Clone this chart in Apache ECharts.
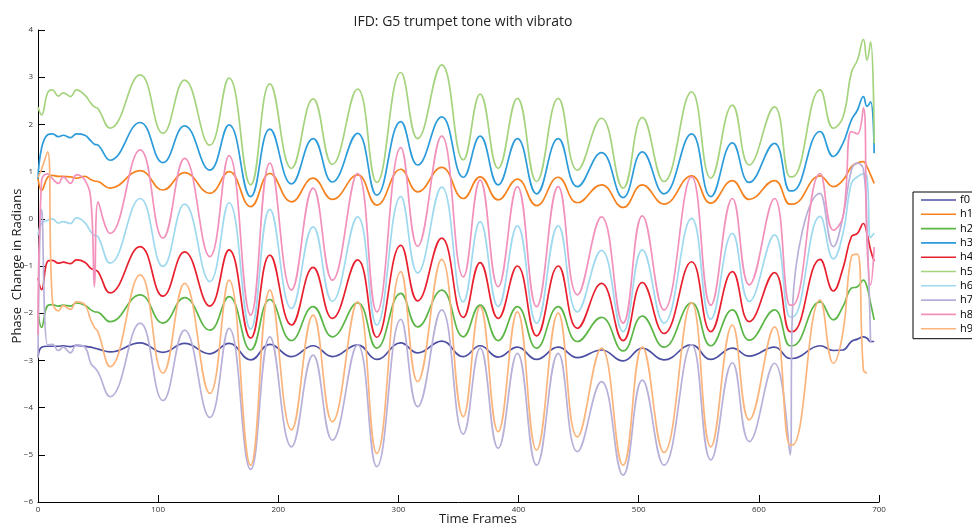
<!DOCTYPE html>
<html>
<head>
<meta charset="utf-8">
<title>IFD: G5 trumpet tone with vibrato</title>
<script src="https://cdn.jsdelivr.net/npm/echarts@6/dist/echarts.min.js"></script>
<style>
  html, body { margin: 0; padding: 0; background: #fff; }
  #chart { width: 972px; height: 527px; }
</style>
</head>
<body>
<div id="chart"></div>
<script>
// key frames (peaks / troughs of the vibrato), shared by all partials
const frames = [0, 3, 8, 12, 17, 21, 27, 32, 39, 44, 47, 50,
  60, 85, 104, 122, 143, 159, 177, 193, 211, 229,
  245, 266, 282, 302, 316, 336, 354, 368, 383, 399,
  415, 433, 449, 469, 487, 503, 521, 544, 560, 578,
  592, 613, 626, 628, 651, 662,
  670, 677, 682, 687, 690, 693, 696];

const f0 = [-2.92, -2.72, -2.7, -2.7, -2.7, -2.69, -2.71, -2.68, -2.7, -2.72, -2.74, -2.76,
  -2.82, -2.63, -2.83, -2.64, -2.86, -2.64, -2.99, -2.66, -2.92, -2.69,
  -2.92, -2.67, -2.98, -2.63, -2.84, -2.59, -2.92, -2.69, -2.93, -2.72,
  -2.98, -2.72, -2.94, -2.78, -3.01, -2.74, -2.99, -2.67, -2.98, -2.74,
  -2.91, -2.72, -2.96, -2.96, -2.69, -2.79,
  -2.78, -2.6, -2.55, -2.5, -2.53, -2.6, -2.6];

const h1 = [0.85, 0.6, 0.88, 0.92, 0.9, 0.9, 0.89, 0.86, 0.9, 0.83, 0.8, 0.79,
  0.65, 1.02, 0.61, 0.98, 0.54, 1.0, 0.26, 0.96, 0.36, 0.86,
  0.41, 0.93, 0.29, 1.05, 0.57, 1.09, 0.43, 0.89, 0.4, 0.84,
  0.28, 0.88, 0.34, 0.72, 0.24, 0.72, 0.31, 0.91, 0.33, 0.81,
  0.41, 0.81, 0.31, 0.31, 0.91, 0.68,
  0.82, 1.1, 1.18, 1.21, 1.1, 0.93, 0.75];

const h2 = [-1.93, -2.3, -1.84, -1.82, -1.85, -1.83, -1.85, -1.78, -1.83, -1.93, -1.97, -1.98,
  -2.18, -1.61, -2.21, -1.67, -2.36, -1.65, -2.78, -1.71, -2.58, -1.86,
  -2.5, -1.78, -2.74, -1.58, -2.29, -1.51, -2.5, -1.83, -2.58, -1.86,
  -2.74, -1.86, -2.6, -2.09, -2.8, -2.06, -2.72, -1.78, -2.69, -1.93,
  -2.57, -1.93, -2.69, -2.69, -1.76, -2.14,
  -1.86, -1.47, -1.44, -1.3, -1.44, -1.79, -2.14];

const h3 = [0.85, 1.5, 1.78, 1.8, 1.74, 1.77, 1.72, 1.8, 1.77, 1.65, 1.58, 1.56,
  1.24, 2.04, 1.19, 1.97, 1.03, 1.99, 0.47, 1.9, 0.74, 1.7,
  0.78, 1.81, 0.5, 2.06, 1.14, 2.16, 0.88, 1.75, 0.72, 1.7,
  0.53, 1.7, 0.68, 1.4, 0.45, 1.42, 0.53, 1.8, 0.47, 1.61,
  0.77, 1.6, 0.59, 0.59, 1.85, 1.32,
  1.6, 2.09, 2.3, 2.59, 2.38, 2.48, 1.39];

const h4 = [-1.25, -1.5, -0.9, -0.88, -0.94, -0.92, -0.95, -0.87, -0.92, -1.05, -1.08, -1.12,
  -1.57, -0.59, -1.64, -0.7, -1.85, -0.66, -2.53, -0.77, -2.25, -1.03,
  -2.11, -0.87, -2.51, -0.56, -1.74, -0.41, -2.09, -0.93, -2.11, -1.0,
  -2.48, -1.0, -2.32, -1.37, -2.58, -1.35, -2.43, -0.91, -2.39, -1.12,
  -2.18, -1.14, -2.39, -2.39, -0.86, -1.53,
  -1.05, -0.38, -0.31, -0.1, -0.31, -0.66, -0.9];

const h5 = [2.37, 2.2, 2.67, 2.73, 2.6, 2.67, 2.59, 2.73, 2.62, 2.45, 2.37, 2.33,
  1.92, 3.05, 1.81, 2.94, 1.56, 2.98, 0.72, 2.86, 1.07, 2.54,
  1.15, 2.75, 0.77, 3.1, 1.7, 3.26, 1.25, 2.64, 1.07, 2.55,
  0.79, 2.55, 1.03, 2.13, 0.65, 2.15, 0.79, 2.69, 0.86, 2.41,
  1.14, 2.37, 0.89, 0.89, 2.73, 1.92,
  2.15, 3.1, 3.36, 3.8, 3.36, 3.75, 1.6];

const h6 = [-0.35, -0.1, -0.03, 0.0, -0.09, -0.06, -0.1, 0.02, -0.08, -0.28, -0.35, -0.38,
  -0.94, 0.43, -1.01, 0.31, -1.33, 0.34, -2.34, 0.2, -1.9, -0.17,
  -1.75, 0.04, -2.25, 0.47, -1.15, 0.67, -1.76, -0.06, -1.86, -0.15,
  -2.21, -0.15, -1.97, -0.67, -2.39, -0.66, -2.21, 0.01, -2.13, -0.31,
  -1.75, -0.34, -2.08, -2.08, 0.05, -0.85,
  -0.31, 0.75, 0.89, 0.95, 0.89, -0.4, -0.3];

const h7 = [-2.95, 0.2, -2.67, -2.66, -2.79, -2.72, -2.84, -2.67, -2.72, -3.07, -3.15, -3.25,
  -3.77, -2.21, -3.85, -2.36, -4.21, -2.32, -5.31, -2.5, -4.83, -2.89,
  -4.69, -2.67, -5.25, -2.13, -3.98, -1.93, -4.56, -2.74, -4.86, -2.85,
  -5.22, -2.85, -4.93, -3.45, -5.43, -3.42, -5.22, -2.67, -5.11, -3.05,
  -4.72, -3.06, -5.0, -1.9, 0.54, -0.59,
  0.04, 1.03, 1.18, 1.05, -0.2, -2.63, null];

const h8 = [-2.45, 0.82, 0.95, 0.85, 0.75, 0.89, 0.75, 0.93, 0.82, 0.4, -1.44, 0.36,
  -0.31, 1.46, -0.41, 1.28, -0.8, 1.34, -2.04, 1.18, -1.51, 0.65,
  -1.3, 0.96, -1.97, 1.51, -0.58, 1.75, -1.23, 0.82, -1.44, 0.68,
  -1.86, 0.68, -1.61, 0.04, -2.21, 0.06, -1.93, 0.89, -1.83, 0.43,
  -1.4, 0.43, -1.83, -1.83, 0.96, -0.24,
  0.04, 1.85, 1.8, 2.35, -0.5, -1.4, -0.6];

const h9 = [0.88, 1.05, 1.42, -1.75, -1.95, -1.84, -1.92, -1.76, -1.82, -2.15, -2.3, -2.4,
  -3.13, -1.19, -3.27, -1.37, -3.7, -1.3, -5.22, -1.51, -4.47, -2.04,
  -4.3, -1.76, -4.97, -1.12, -3.45, -0.86, -4.19, -1.86, -4.51, -1.97,
  -4.9, -2.0, -4.62, -2.74, -5.22, -2.72, -4.95, -1.78, -4.83, -2.25,
  -4.26, -2.29, -4.79, -4.79, -1.72, -3.06,
  -2.4, -0.8, -0.75, -3.2, -3.27, null, null];

const seriesNames = ['f0', 'h1', 'h2', 'h3', 'h4', 'h5', 'h6', 'h7', 'h8', 'h9'];
const seriesValues = [f0, h1, h2, h3, h4, h5, h6, h7, h8, h9];
const colors = ['#4d4fa3', '#f5821f', '#5cb646', '#2b9bd9', '#e8202e',
  '#a5d37e', '#9fd9ef', '#b9b0d9', '#f291bc', '#fbb57c'];

const FONT = '"Open Sans", "DejaVu Sans", sans-serif';

const chart = echarts.init(document.getElementById('chart'), null, { renderer: 'canvas' });

const series = seriesNames.map((name, i) => ({
  name: name,
  type: 'line',
  data: frames.map((f, j) => [f, seriesValues[i][j]]),
  smooth: 0.45,
  symbol: 'none',
  connectNulls: false,
  lineStyle: { color: colors[i], width: 1.7 },
  itemStyle: { color: colors[i] }
}));

chart.setOption({
  animation: false,
  backgroundColor: '#fff',
  title: [{
    text: 'IFD: G5 trumpet tone with vibrato',
    left: 458,
    top: 10,
    textAlign: 'center',
    textStyle: { fontFamily: FONT, fontSize: 14, fontWeight: 'normal', color: '#222' }
  }, {
    text: 'Time Frames',
    left: 473,
    top: 508,
    textAlign: 'center',
    textStyle: { fontFamily: FONT, fontSize: 13, fontWeight: 'normal', color: '#222' }
  }],
  grid: { left: 38, right: 93, top: 30, bottom: 25, containLabel: false, outerBoundsMode: 'none' },
  legend: {
    data: seriesNames,
    orient: 'vertical',
    left: 913,
    top: 192,
    icon: 'rect',
    itemWidth: 35,
    itemHeight: 1.6,
    itemGap: 2.3,
    padding: [2, 14, 4, 8],
    borderColor: '#000',
    borderWidth: 1,
    textStyle: { fontFamily: FONT, fontSize: 11, lineHeight: 12, color: '#000', padding: [0, 0, 0, -1] }
  },
  xAxis: {
    type: 'value',
    min: 0,
    max: 700,
    interval: 100,
    axisLine: { show: true, onZero: false, lineStyle: { color: '#000', width: 1 } },
    axisTick: { show: true, inside: true, length: 7, lineStyle: { color: '#000' } },
    axisLabel: { fontFamily: FONT, fontSize: 8, color: '#333', margin: 4 },
    splitLine: { show: false }
  },
  yAxis: {
    type: 'value',
    min: -6,
    max: 4,
    interval: 1,
    name: 'Phase  Change in Radians',
    nameLocation: 'middle',
    nameGap: 14,
    nameMoveOverlap: false,
    nameTextStyle: { fontFamily: FONT, fontSize: 13, color: '#222' },
    axisLine: { show: true, onZero: false, lineStyle: { color: '#000', width: 1 } },
    axisTick: { show: true, inside: true, length: 7, lineStyle: { color: '#000' } },
    axisLabel: {
      fontFamily: FONT, fontSize: 8, color: '#333', margin: 5,
      formatter: (v) => String(v).replace('-', '\u2212')
    },
    splitLine: { show: false }
  },
  series: series
});
</script>
</body>
</html>
